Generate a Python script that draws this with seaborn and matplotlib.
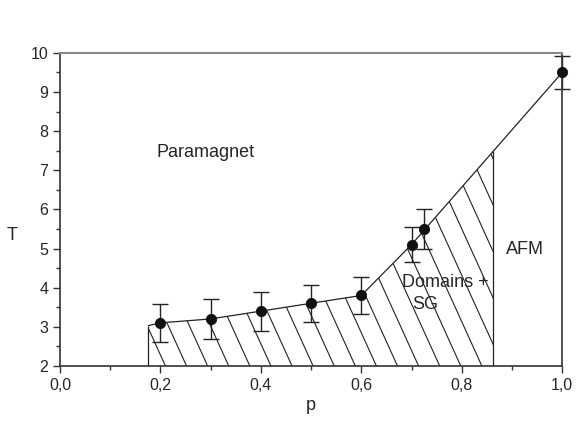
import numpy as np
import pandas as pd
import matplotlib as mpl
mpl.use("Agg")
import matplotlib.pyplot as plt
from matplotlib.patches import Polygon
from matplotlib.ticker import MultipleLocator, FuncFormatter
import seaborn as sns

# measured points
p_pts = [0.2, 0.3, 0.4, 0.5, 0.6, 0.7, 0.725, 1.0]
T_pts = [3.1, 3.2, 3.4, 3.6, 3.8, 5.1, 5.5, 9.5]
T_err = [0.48, 0.52, 0.5, 0.47, 0.47, 0.45, 0.52, 0.42]

# phase boundary
p_line = [0.176, 0.2, 0.3, 0.4, 0.5, 0.6, 0.7, 1.0]
T_line = [3.03, 3.1, 3.2, 3.4, 3.6, 3.8, 5.1, 9.5]
p_left = 0.176
p_right = 0.863

df = pd.DataFrame({"p": p_pts, "T": T_pts, "err": T_err})
bd = pd.DataFrame({"p": p_line, "T": T_line})

sns.set_style("ticks")
plt.rcParams["font.family"] = ["Liberation Sans", "DejaVu Sans"]

fig = plt.figure(figsize=(5.82, 4.23), dpi=100)
ax = fig.add_axes([0.103, 0.135, 0.863, 0.74])
ax.set_xlim(0, 1.0)
ax.set_ylim(2, 10)

# hatched Domains + SG region (steep hand-drawn-like hatch, clipped to region)
xs = np.array([p_left] + [v for v in p_line if p_left < v < p_right] + [p_right])
ys = np.interp(xs, p_line, T_line)
region = Polygon(np.column_stack([np.r_[xs, p_right, p_left], np.r_[ys, 2, 2]]),
                 closed=True, fill=False, lw=0, transform=ax.transData)
ax.add_patch(region)
k = 2.2 * (502 / 39.1)  # slope in data units (about 2.2 px down per px right)
for c in np.arange(0.21, 1.1, 0.042):
    ln, = ax.plot([c, c - 8 / k], [2, 10], color="#222222", lw=0.8)
    ln.set_clip_path(region)
ax.vlines([p_left], 2, ys[0], color="#222222", lw=0.9)
ax.vlines([p_right], 2, ys[-1], color="#222222", lw=0.9)

sns.lineplot(data=bd, x="p", y="T", sort=False, estimator=None, color="#222222", lw=0.9, ax=ax)
eb = ax.errorbar(df["p"], df["T"], yerr=df["err"], fmt="none", ecolor="#222222",
                 elinewidth=1.0, capsize=6, capthick=1.0)
for art in eb.lines[1] + eb.lines[2]:
    art.set_clip_on(False)
sns.scatterplot(data=df, x="p", y="T", color="#111111", s=55, edgecolor="#111111",
                zorder=5, clip_on=False, ax=ax)

ax.text(0.29, 7.45, "Paramagnet", fontsize=13, ha="center", va="center")
ax.text(0.767, 4.12, "Domains +", fontsize=13, ha="center", va="center")
ax.text(0.727, 3.56, "SG", fontsize=13, ha="center", va="center")
ax.text(0.926, 4.97, "AFM", fontsize=13, ha="center", va="center")

ax.xaxis.set_major_locator(MultipleLocator(0.2))
ax.xaxis.set_minor_locator(MultipleLocator(0.1))
ax.yaxis.set_major_locator(MultipleLocator(1))
ax.yaxis.set_minor_locator(MultipleLocator(0.5))
ax.xaxis.set_major_formatter(FuncFormatter(lambda v, pos: f"{v:.1f}".replace(".", ",")))
ax.tick_params(which="major", length=5, width=1, labelsize=11.5, color="#333333")
ax.tick_params(which="minor", length=3, width=1, color="#333333")
ax.set_xlabel("p", fontsize=13)
ax.xaxis.set_label_coords(0.5, -0.1)
ax.set_ylabel("T", fontsize=13, rotation=0)
ax.yaxis.set_label_coords(-0.095, 0.39)

for side in ["left", "bottom", "right"]:
    ax.spines[side].set_color("#333333")
    ax.spines[side].set_linewidth(1.2)
ax.spines["top"].set_color("#888888")
ax.spines["top"].set_linewidth(1.5)

fig.savefig("out.png", dpi=100)
